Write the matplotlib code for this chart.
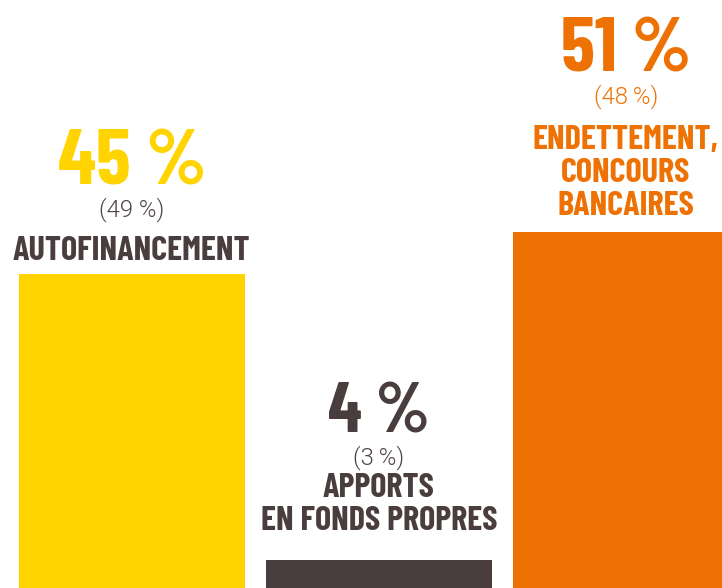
import matplotlib
matplotlib.use("Agg")
import matplotlib.pyplot as plt
from matplotlib import font_manager
from matplotlib.font_manager import FontProperties
from matplotlib.textpath import TextPath

# Sources de financement des investissements (entre parenthèses : année précédente)
categories = ["AUTOFINANCEMENT", "APPORTS\nEN FONDS PROPRES", "ENDETTEMENT,\nCONCOURS\nBANCAIRES"]
shares = [45, 4, 51]
previous = ["(49 %)", "(3\u2009%)", "(48\u2009%)"]

bar_colors = ["#FFD400", "#4A3D3D", "#EE7203"]
text_colors = ["#4A3D3D", "#4A3D3D", "#EE7203"]
sub_colors = ["#4F4545", "#4F4545", "#EE7203"]
# label layout in pixels: gap above the bar, gap under the "(xx %)" line, cap height of the big number
label_pad = [14, 30, 17]
sub_gap = [43, 33, 45]
big_cap = [55, 49, 54]


def pick_font(candidates):
    fonts = font_manager.fontManager.ttflist
    for name, weight in candidates:
        for f in fonts:
            w = f.weight if isinstance(f.weight, int) else 400
            if f.name == name and w >= weight:
                return name, weight
    return "DejaVu Sans", 700


def size_for_cap(family, weight, cap_px):
    # font size in points that gives the wanted cap height in pixels (dpi 100)
    tp = TextPath((0, 0), "H", size=100, prop=FontProperties(family=family, weight=weight))
    ratio = tp.get_extents().height / 100
    return cap_px / ratio * 72 / 100


cond, cond_w = pick_font([("Barlow Condensed", 700), ("Roboto Condensed", 700), ("Fjalla One", 400),
                          ("PT Sans Narrow", 700), ("Oswald", 400), ("Archivo Narrow", 400)])
light, light_w = pick_font([("Roboto", 300), ("Lato", 300), ("Open Sans", 300)])
light_w = 300

fig = plt.figure(figsize=(7.22, 5.88), dpi=100)
ax = fig.add_axes([0, 0, 1, 1])
x = list(range(len(shares)))
ax.bar(x, shares, width=0.915, color=bar_colors)
ax.set_xlim(-0.534, 2.389)
ax.set_ylim(0, 84.2)
ax.axis("off")

cat_size = size_for_cap(cond, cond_w, 24)
sub_size = size_for_cap(light, light_w, 17)
px = 72 / 100  # pixels -> points

for i in x:
    lines = categories[i].split("\n")
    y = label_pad[i]
    for k, line in enumerate(reversed(lines)):
        ax.annotate(line, (i, shares[i]), xytext=(0, (y + 33 * k) * px),
                    textcoords="offset points", ha="center", va="baseline",
                    fontsize=cat_size, fontweight=cond_w, family=cond, color=text_colors[i])
    y = y + 33 * (len(lines) - 1) + sub_gap[i]
    ax.annotate(previous[i], (i, shares[i]), xytext=(0, y * px),
                textcoords="offset points", ha="center", va="baseline",
                fontsize=sub_size, fontweight=light_w, family=[light, "DejaVu Sans"],
                color=sub_colors[i])
    y = y + 32
    ax.annotate(f"{shares[i]} %", (i, shares[i]), xytext=(0, y * px),
                textcoords="offset points", ha="center", va="baseline",
                fontsize=size_for_cap(cond, cond_w, big_cap[i]), fontweight=cond_w,
                family=cond, color=bar_colors[i])

fig.savefig("out.png", dpi=100)
